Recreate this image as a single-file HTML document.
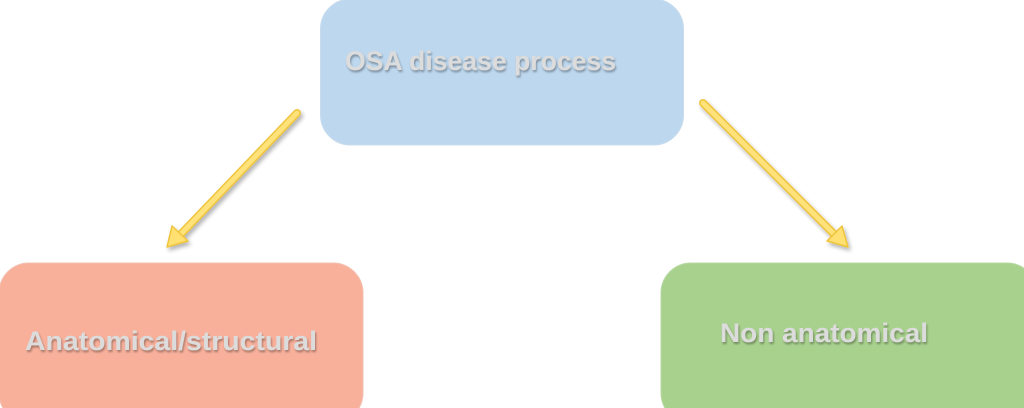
<!DOCTYPE html>
<html><head><meta charset="utf-8"><style>
html,body{margin:0;padding:0;background:#fff;}
svg{display:block;}
</style></head><body>
<svg width="1024" height="408" viewBox="0 0 1024 408" xmlns="http://www.w3.org/2000/svg">
<defs>
<filter id="ts" x="-5%" y="-30%" width="110%" height="160%">
<feGaussianBlur in="SourceAlpha" stdDeviation="1"/>
<feOffset dx="1" dy="2" result="b"/>
<feComponentTransfer in="b" result="c"><feFuncA type="linear" slope="0.35"/></feComponentTransfer>
<feMerge><feMergeNode in="c"/><feMergeNode in="SourceGraphic"/></feMerge>
</filter>
<filter id="as" x="-20%" y="-20%" width="140%" height="140%">
<feGaussianBlur in="SourceAlpha" stdDeviation="2"/>
<feOffset dx="2" dy="3" result="b"/>
<feComponentTransfer in="b" result="c"><feFuncA type="linear" slope="0.3"/></feComponentTransfer>
<feMerge><feMergeNode in="c"/><feMergeNode in="SourceGraphic"/></feMerge>
</filter>
</defs>
<rect x="320.5" y="-1" width="363" height="146" rx="30" fill="#bdd7ee" stroke="#c9dcee" stroke-width="1"/>
<rect x="-1" y="263" width="364" height="160" rx="30" fill="#f8b09b" stroke="#f3c0b0" stroke-width="1"/>
<rect x="661" y="263" width="376" height="160" rx="30" fill="#a9d18e" stroke="#b9d8a4" stroke-width="1"/>

<g font-family="Liberation Sans, sans-serif" font-weight="bold" font-size="27" fill="#dcdcdc" filter="url(#ts)">
<text x="345" y="70" textLength="271" lengthAdjust="spacingAndGlyphs">OSA disease process</text>
<text x="25" y="350" textLength="292" lengthAdjust="spacingAndGlyphs">Anatomical/structural</text>
<text x="720" y="342" textLength="208" lengthAdjust="spacingAndGlyphs">Non anatomical</text>
</g>

<g filter="url(#as)">
<line x1="297" y1="113" x2="179" y2="236" stroke="#efc43e" stroke-width="8" stroke-linecap="round"/>
<line x1="297" y1="113" x2="179" y2="236" stroke="#ffe27a" stroke-width="5" stroke-linecap="round"/>
<polygon points="167,247 172,226 188,241" fill="#ffe070" stroke="#efc43e" stroke-width="1.5" stroke-linejoin="round"/>
<line x1="703" y1="103" x2="836" y2="236" stroke="#efc43e" stroke-width="8" stroke-linecap="round"/>
<line x1="703" y1="103" x2="836" y2="236" stroke="#ffe27a" stroke-width="5" stroke-linecap="round"/>
<polygon points="848,247 827,241 842,226" fill="#ffe070" stroke="#efc43e" stroke-width="1.5" stroke-linejoin="round"/>
</g>
</svg>
</body></html>
